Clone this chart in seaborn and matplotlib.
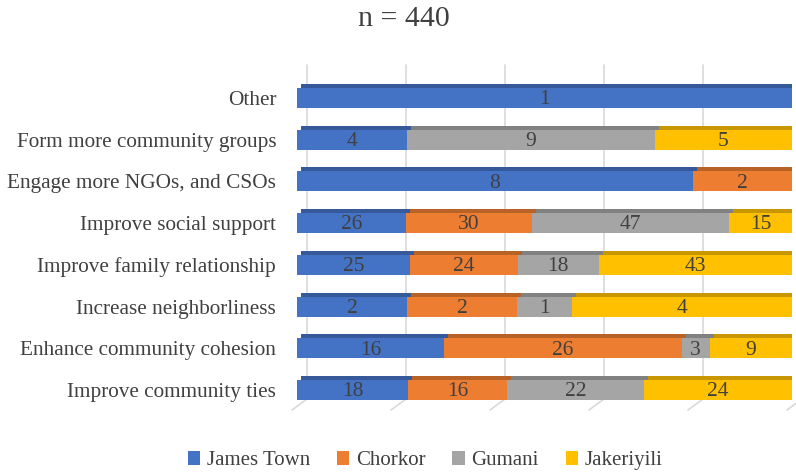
import numpy as np
import pandas as pd
import seaborn as sns
import matplotlib.pyplot as plt
import matplotlib.transforms as mtransforms
from matplotlib.patches import Patch
from matplotlib.colors import to_rgb

# --- data ---
categories = [
    "Other",
    "Form more community groups",
    "Engage more NGOs, and CSOs",
    "Improve social support",
    "Improve family relationship",
    "Increase neighborliness",
    "Enhance community cohesion",
    "Improve community ties",
]
series = ["James Town", "Chorkor", "Gumani", "Jakeriyili"]
james_town = [1, 4, 8, 26, 25, 2, 16, 18]
chorkor = [0, 0, 2, 30, 24, 2, 26, 16]
gumani = [0, 9, 0, 47, 18, 1, 3, 22]
jakeriyili = [0, 5, 0, 15, 43, 4, 9, 24]
title = "n = 440"

colors = ["#4472C4", "#ED7D31", "#A5A5A5", "#FFC000"]
serif = ["Liberation Serif", "DejaVu Serif"]

df = pd.DataFrame({"James Town": james_town, "Chorkor": chorkor,
                   "Gumani": gumani, "Jakeriyili": jakeriyili}, index=categories)
pct = df.div(df.sum(axis=1), axis=0) * 100
cum = pct.cumsum(axis=1)

sns.set_theme(style="white")
plt.rcParams["font.family"] = serif

fig = plt.figure(figsize=(7.96, 4.74), dpi=100)
ax = fig.add_axes([297 / 796, 63 / 474, 495 / 796, 334 / 474])

depth = mtransforms.ScaledTranslation(4 / 100, 4 / 100, fig.dpi_scale_trans)
grid_off = mtransforms.ScaledTranslation(10 / 100, 12 / 100, fig.dpi_scale_trans)

# back wall gridlines + floor stubs (3D look)
for g in range(0, 101, 20):
    ax.plot([g, g], [0, 1], color="#D9D9D9", lw=1.2,
            transform=ax.get_xaxis_transform() + grid_off, clip_on=False, zorder=0)
    ax.annotate("", xy=(g, 0), xycoords=ax.get_xaxis_transform() + grid_off,
                xytext=(-15, -11), textcoords="offset pixels",
                arrowprops=dict(arrowstyle="-", color="#D9D9D9", lw=1.2,
                                shrinkA=0, shrinkB=0), zorder=0)

def darker(c, f=0.78):
    r, g, b = to_rgb(c)
    return (r * f, g * f, b * f)

# depth faces, then front faces (largest cumulative first)
for shifted in (True, False):
    for s, c in reversed(list(zip(series, colors))):
        n_before = len(ax.patches)
        sns.barplot(x=cum[s].values, y=categories, orient="h",
                    color=darker(c) if shifted else c, width=0.48,
                    saturation=1, linewidth=0, edgecolor="none", ax=ax, zorder=2)
        if shifted:
            for p in list(ax.patches)[n_before:]:
                p.set_transform(ax.transData + depth)
                p.set_zorder(1)

# value labels
for i, cat in enumerate(categories):
    left = 0
    for s in series:
        v = df.loc[cat, s]
        w = pct.loc[cat, s]
        if v > 0:
            ax.text(left + w / 2, i + 0.04, str(v), ha="center", va="center",
                    fontsize=15.5, color="#404040", family=serif, zorder=5)
        left += w

ax.set_xlim(0, 100)
ax.set_ylim(7.5, -0.5)
ax.set_xlabel("")
ax.set_ylabel("")
ax.set_xticks([])
ax.tick_params(axis="y", length=0, labelsize=15.3, labelcolor="#404040", pad=15)
for lbl in ax.get_yticklabels():
    lbl.set_family(serif)
for sp in ax.spines.values():
    sp.set_visible(False)

fig.text(404 / 796, 1 - 19 / 474, title, ha="center", va="center",
         fontsize=21.5, color="#404040", family=serif)

handles = [Patch(facecolor=c, edgecolor="none") for c in colors]
fig.legend(handles, series, loc="lower center", bbox_to_anchor=(425 / 796, -0.032),
           ncol=4, frameon=False, prop=dict(family=serif, size=15),
           handlelength=0.6, handleheight=0.6,
           handletextpad=0.3, columnspacing=1.3, labelcolor="#404040")

fig.savefig("out.png", dpi=100)
